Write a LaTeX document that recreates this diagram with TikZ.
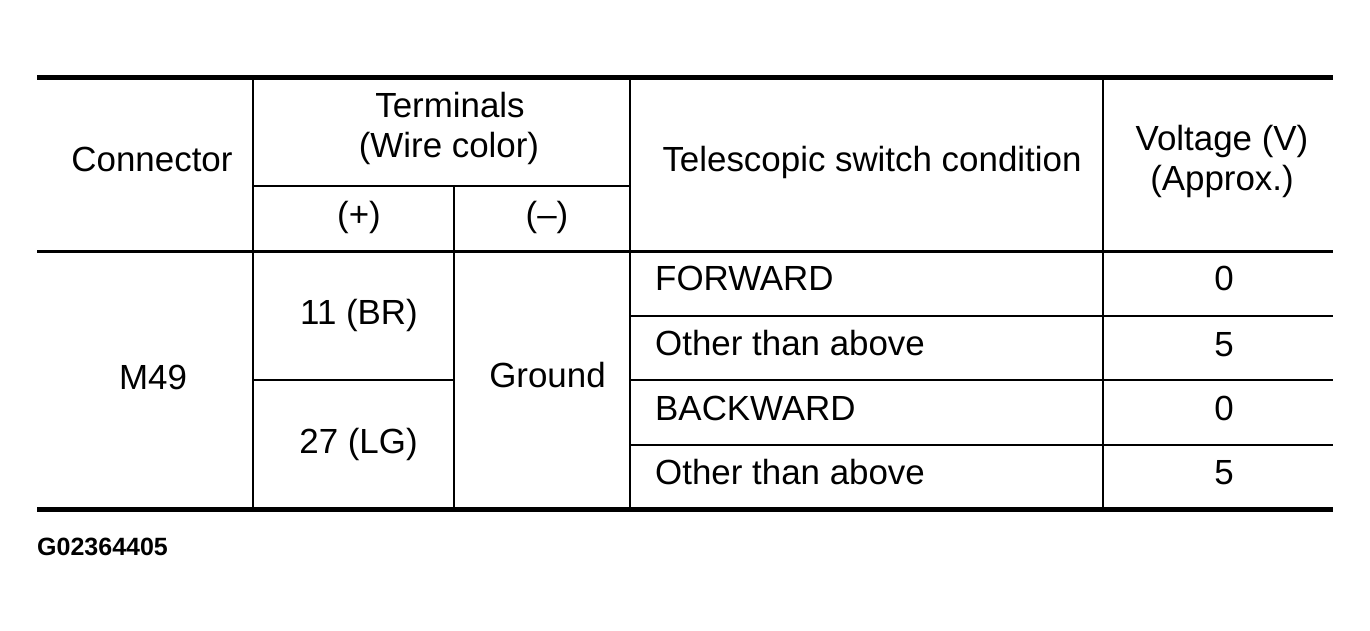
\documentclass[tikz,border=0pt]{standalone}
\usepackage{fontspec}
\setmainfont{Liberation Sans}
\begin{document}
\begin{tikzpicture}[x=1pt,y=-1pt,
  txt/.style={inner sep=0pt,anchor=base,font=\fontsize{34.9}{40}\selectfont},
  ltxt/.style={txt,anchor=base west},
  thick rule/.style={line width=5pt},
  mid rule/.style={line width=3pt},
  thin rule/.style={line width=2pt}]
\useasboundingbox (0,0) rectangle (1370,631);
% coordinates
\coordinate (TL) at (37,78);
\coordinate (TR) at (1333,78);
\coordinate (ML) at (37,251);
\coordinate (MR) at (1333,251);
\coordinate (BL) at (37,509);
\coordinate (BR) at (1333,509);
% verticals
\draw[thin rule] (253,78) -- (253,509);
\draw[thin rule] (454,186) -- (454,509);
\draw[thin rule] (630,78) -- (630,509);
\draw[thin rule] (1103,78) -- (1103,509);
% thin horizontals
\draw[thin rule] (253,186) -- (630,186);
\draw[thin rule] (253,380) -- (454,380);
\draw[thin rule] (630,316) -- (1333,316);
\draw[thin rule] (630,380) -- (1333,380);
\draw[thin rule] (630,445) -- (1333,445);
% rules
\draw[thick rule] (TL) -- (TR);
\draw[mid rule] (ML) -- (MR);
\draw[thick rule] (BL) -- (BR);
% header text
\node[txt] (hconn) at (152,172) {Connector};
\node[txt] (hterm1) at (450,118) {Terminals};
\node[txt] (hterm2) at (449,158) {(Wire color)};
\node[txt] (hplus) at (359,226) {(+)};
\node[txt] (hminus) at (547,226) {(–)};
\node[txt] (hcond) at (872,172) {Telescopic switch condition};
\node[txt] (hvolt1) at (1222,151) {Voltage (V)};
\node[txt] (hvolt2) at (1222,191) {(Approx.)};
% body
\node[txt] (m49) at (153,389) {M49};
\node[txt] (t11) at (359,324) {11 (BR)};
\node[txt] (t27) at (358.5,453) {27 (LG)};
\node[txt] (gnd) at (547.5,387) {Ground};
\node[ltxt] (c1) at (655,290) {FORWARD};
\node[ltxt] (c2) at (655,355) {Other than above};
\node[ltxt] (c3) at (655,420) {BACKWARD};
\node[ltxt] (c4) at (655,484) {Other than above};
\node[txt] (v1) at (1224,290) {0};
\node[txt] (v2) at (1224,356) {5};
\node[txt] (v3) at (1224,420) {0};
\node[txt] (v4) at (1224,484) {5};
% figure code
\node[inner sep=0pt,anchor=base west,font=\fontsize{25}{29}\selectfont\bfseries] (code) at (37,555) {G02364405};
\end{tikzpicture}
\end{document}
